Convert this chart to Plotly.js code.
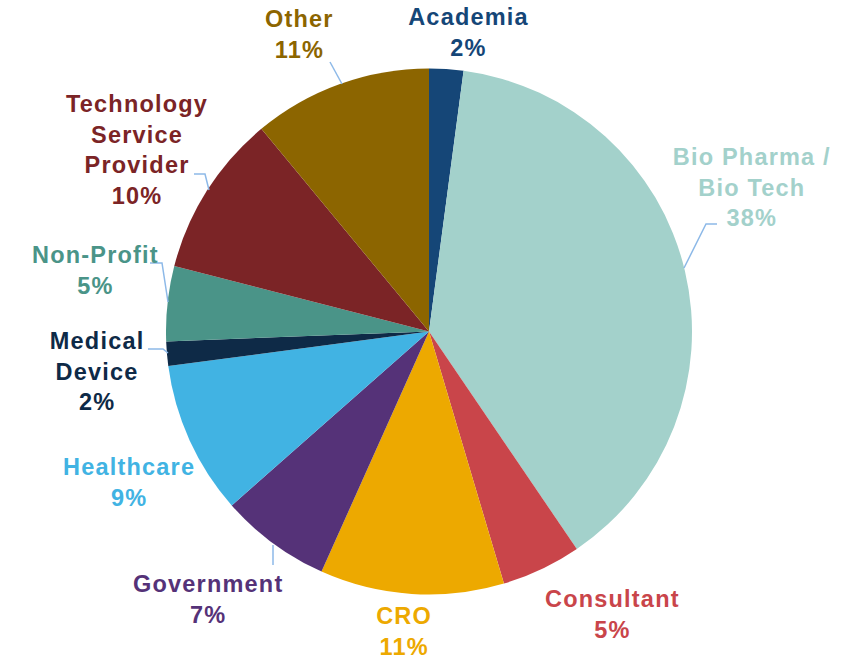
<!DOCTYPE html>
<html>
<head>
<meta charset="utf-8">
<script src="https://cdn.plot.ly/plotly-3.0.1.min.js"></script>
<style>html,body{margin:0;padding:0;background:#fff;}#chart{width:846px;height:661px;}
#chart .annotation-text{letter-spacing:1.2px;}</style>
</head>
<body>
<div id="chart"></div>
<script>
// ---- data ----
const categories = ["Academia", "Bio Pharma / Bio Tech", "Consultant", "CRO", "Government",
  "Healthcare", "Medical Device", "Non-Profit", "Technology Service Provider", "Other"];
const labelText = ["Academia", "Bio Pharma /<br>Bio Tech", "Consultant", "CRO", "Government",
  "Healthcare", "Medical<br>Device", "Non-Profit", "Technology<br>Service<br>Provider", "Other"];
const shares = [2.1, 38.4, 4.9, 11.3, 6.8, 9.4, 1.5, 4.6, 10.0, 11.0];

// ---- style ----
const colors = ["#154677", "#A3D1CB", "#C9454A", "#EDA900", "#553278",
  "#41B3E3", "#0E2A47", "#4A9488", "#7B2426", "#8C6500"];
const W = 846, H = 661;
// label block centres (px) and leader lines (px), layout only
const labelPos = [[469, 32], [752, 187], [612, 614], [404, 631], [208, 599],
  [129, 482], [97, 372], [95, 270], [137, 150], [299, 35]];
const leaders = [
  [[330, 62], [342, 84]],
  [[717, 224], [706, 224], [684, 268]],
  [[194, 174], [205, 174], [209, 190]],
  [[150, 263], [162, 263], [168, 302]],
  [[148, 349], [163, 349], [168, 353]],
  [[273, 545], [273, 565]]
];

const total = shares.reduce((a, b) => a + b, 0);
const px = x => x / W, py = y => 1 - y / H;

const cx = 429, cy = 331.5, R = 263;
const trace = {
  type: "pie",
  labels: categories,
  values: shares,
  sort: false,
  direction: "clockwise",
  rotation: 0,
  textinfo: "none",
  hoverinfo: "label+percent",
  marker: {colors: colors, line: {width: 0}},
  domain: {x: [(cx - R) / W, (cx + R) / W], y: [(H - cy - R) / H, (H - cy + R) / H]},
  showlegend: false
};

const annotations = categories.map((c, i) => ({
  xref: "paper", yref: "paper",
  x: px(labelPos[i][0]), y: py(labelPos[i][1]),
  xanchor: "center", yanchor: "middle",
  text: "<b>" + labelText[i] + "<br>" + Math.round(shares[i] / total * 100) + "%</b>",
  showarrow: false,
  align: "center",
  font: {family: "Liberation Sans, Arial, sans-serif", size: 23.5, color: colors[i]}
}));

const shapes = leaders.map(pts => ({
  type: "path", xref: "paper", yref: "paper",
  path: pts.map((p, j) => (j ? "L" : "M") + px(p[0]) + "," + py(p[1])).join(" "),
  line: {color: "#8DB9E8", width: 1.5}
}));

Plotly.newPlot("chart", [trace], {
  width: W, height: H,
  margin: {l: 0, r: 0, t: 0, b: 0},
  paper_bgcolor: "#ffffff",
  annotations: annotations,
  shapes: shapes
}, {displayModeBar: false, staticPlot: true});
</script>
</body>
</html>
